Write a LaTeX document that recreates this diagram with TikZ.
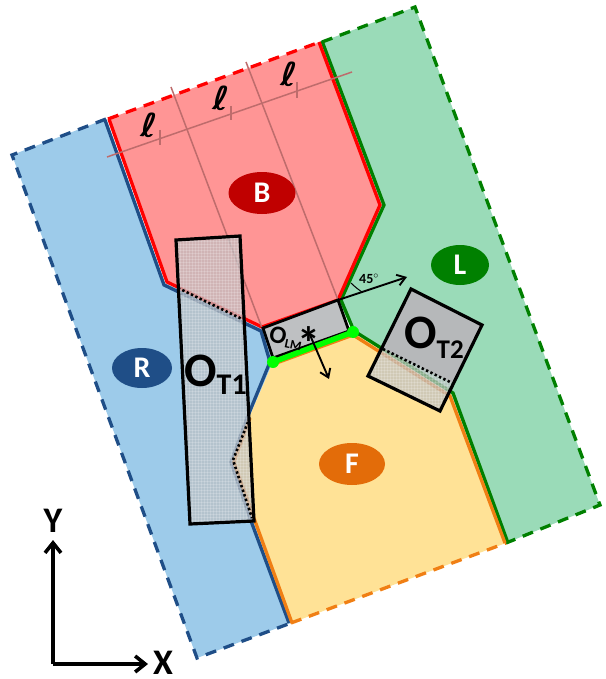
\documentclass[tikz,border=0pt]{standalone}
\usepackage{fontspec}
\setmainfont{Carlito}
\newfontfamily\ellfont{DejaVu Sans}
\usetikzlibrary{arrows.meta,patterns,shapes.geometric}
\definecolor{rfill}{RGB}{157,203,234}\definecolor{rline}{RGB}{31,78,135}
\definecolor{bfill}{RGB}{255,149,149}\definecolor{bball}{RGB}{192,0,0}
\definecolor{lfill}{RGB}{154,219,184}\definecolor{lline}{RGB}{0,128,0}
\definecolor{ffill}{RGB}{255,226,150}\definecolor{fline}{RGB}{240,127,20}\definecolor{fball}{RGB}{227,108,9}
\definecolor{tan}{RGB}{190,108,108}\definecolor{ogray}{RGB}{190,192,194}
\tikzset{
 edge/.style={line width=3.3pt,line join=miter},
 border/.style={line width=3.3pt,dash pattern=on 11pt off 8pt},
 ruler/.style={color=tan,line width=1.5pt},
 ball/.style={ellipse,inner sep=0pt,minimum width=#1,text=white,font=\fontsize{30}{30}\selectfont\bfseries},
 ofill/.style={fill=ogray,fill opacity=.72},
 omesh/.style={pattern=grid,pattern color=white,opacity=.18},
 oline/.style={draw=black,line width=3.2pt,line join=miter},
 dots/.style={black,line width=2.6pt,dash pattern=on 2.4pt off 2.4pt},
 thin arrow/.style={line width=1.9pt,-{Straight Barb[length=8pt,width=11pt,line width=1.9pt]}},
 axis/.style={line width=3.6pt,-{Straight Barb[length=10pt,width=16pt,line width=3.6pt]}},
 bigO/.style={inner sep=0pt,font=\fontsize{48}{48}\selectfont\bfseries},
 axlab/.style={inner sep=0pt,font=\fontsize{36}{36}\selectfont\bfseries},
 ell/.style={inner sep=0pt,font=\fontsize{33}{33}\selectfont\ellfont\bfseries,rotate=-5}
}
\begin{document}
\begin{tikzpicture}[x=1pt,y=-1pt]
\useasboundingbox (0,0) rectangle (605,679);
% region fills
\fill[rfill] (12,155)--(106,119)--(165,283)--(262,328)--(273,362)--(249,418)--(233,460)--(253,520)--(291,623)--(197,658)--cycle;
\fill[lfill] (321,42)--(415,7)--(600,505)--(506,543)--(451,394)--(353,332)--(338,300)--(381,205)--cycle;
\fill[ffill] (273,362)--(353,332)--(451,394)--(506,543)--(291,623)--(253,520)--(233,460)--(249,418)--cycle;
\fill[bfill] (108,119)--(320,42)--(381,205)--(338,300)--(262,328)--(166,283)--cycle;
% outer dashed borders
\draw[border,rline] (106,119)--(12,155)--(197,658)--(291,623);
\draw[border,red] (108,119)--(320,42);
\draw[border,lline] (322,42)--(415,7)--(600,505)--(506,543);
\draw[border,fline] (291,623)--(506,543);
% solid edges
\draw[edge,rline] (105,120)--(164,285)--(261,331)--(270,362)--(247,418)--(231,462)--(251,521)--(289,623);
\draw[edge,lline] (322,41)--(384,205)--(341,300)--(354,331)--(453,393)--(508,543);
\draw[edge,fline] (271,365)--(353,335)--(450,396)--(505,543);
\draw[edge,fline] (250,418)--(234,462)--(255,521)--(292,623);
\draw[edge,red] (109,119)--(167,282)--(262,327)--(338,300)--(380,205)--(319,42);
% ruler
\coordinate (rulA) at (107,157); \coordinate (rulB) at (352,72);
\draw[ruler] (rulA)--(rulB);
\draw[ruler] (171,87)--(262,328);
\draw[ruler] (246,62)--(338,300);
\draw[ruler] (160,130)--(160,145);
\draw[ruler] (231,106)--(231,120);
\draw[ruler] (297,82)--(297,98);
\node[ell] (l1) at (149,125) {ℓ};
\node[ell] (l2) at (221,98) {ℓ};
\node[ell] (l3) at (289,74) {ℓ};
% obstacles
\path[ofill] (176,240)--(240,236)--(254,521)--(190,524)--cycle;
\path[omesh] (176,240)--(240,236)--(254,521)--(190,524)--cycle;
\draw[oline] (176,240)--(240,236)--(254,521)--(190,524)--cycle;
\draw[dots] (178,288)--(242,319);
\draw[dots] (248,422)--(233,460)--(252,518);
\fill[ogray!96!black] (411,289)--(482,325)--(452,383)--(383,349)--cycle;
\path[ofill] (383,349)--(452,383)--(440,411)--(368,376)--cycle;
\path[omesh] (383,349)--(452,383)--(440,411)--(368,376)--cycle;
\draw[oline] (411,289)--(482,325)--(440,411)--(368,376)--cycle;
\draw[dots] (383,349)--(452,383);
\draw[line width=2.8pt,fill=ogray] (263,328)--(338,300)--(349,331)--(273,358)--cycle;
\coordinate (gA) at (273,362); \coordinate (gB) at (353,332);
\draw[line width=5.5pt,color=green] (gA)--(gB);
\fill[green] (gA) circle (6pt) (gB) circle (6pt);
% arrows
\coordinate (p45) at (338,300); \coordinate (q45) at (407,277);
\draw[thin arrow] (p45)--(q45);
\draw[line width=1pt] (351,283) .. controls (355,287) and (359,290) .. (362,292);
\node[inner sep=0pt,font=\fontsize{14}{14}\selectfont\bfseries] (deg) at (369,279) {45$^{\circ}$};
\node[inner sep=0pt,font=\fontsize{46}{46}\selectfont\bfseries] (star) at (309,343) {*};
\coordinate (olmA) at (310,335); \coordinate (olmB) at (329,379);
\draw[thin arrow] (olmA)--(olmB);
% labels
\node[inner sep=0pt,rotate=-12,font=\fontsize{25}{25}\selectfont\bfseries] (olm) at (286,338) {O\raisebox{-3pt}{\fontsize{13}{13}\selectfont LM}};
\node[bigO,anchor=base west] (ot1) at (184,386) {O\raisebox{-8pt}{\fontsize{30}{30}\selectfont T1}};
\node[bigO,anchor=base west] (ot2) at (404,348) {O\raisebox{-10pt}{\fontsize{27}{27}\selectfont T2}};
\node[ball=67pt,minimum height=42pt,fill=bball] (B) at (262,193) {B};
\node[ball=60pt,minimum height=40pt,fill=rline] (R) at (142,368) {R};
\node[ball=58pt,minimum height=40pt,fill=lline] (L) at (460,265) {L};
\node[ball=66pt,minimum height=42pt,fill=fball] (F) at (352,464) {F};
% axes
\coordinate (orig) at (53,664);
\node[axlab] (Y) at (53,521) {Y};
\node[axlab] (X) at (163,663) {X};
\draw[axis] (orig)--(53,540);
\draw[axis] (orig)--(148,664);
\end{tikzpicture}
\end{document}
